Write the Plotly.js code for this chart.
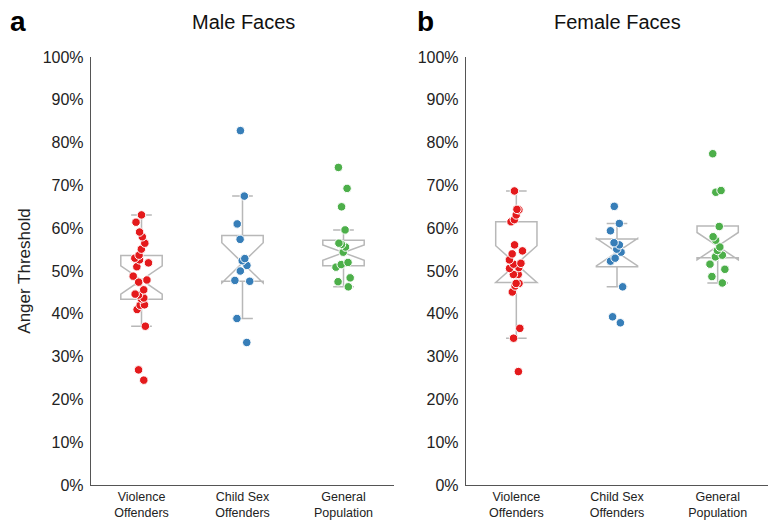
<!DOCTYPE html>
<html>
<head>
<meta charset="utf-8">
<script src="https://cdn.plot.ly/plotly-3.0.1.min.js"></script>
<style>html,body{margin:0;padding:0;background:#fff}#chart{width:769px;height:523px}</style>
</head>
<body>
<div id="chart"></div>
<script>
// ---- data (percent) ----
var categories = ['Violence<br>Offenders', 'Child Sex<br>Offenders', 'General<br>Population'];

var maleViolence = [63.1, 61.4, 59.1, 58.0, 56.5, 55.1, 53.7, 52.6, 53.0, 51.9, 51.0, 48.8, 47.9, 47.4, 45.6, 44.6, 44.4, 43.5, 43.7, 42.0, 42.1, 41.0, 37.1, 26.9, 24.5];
var maleChild = [82.8, 67.5, 61.0, 57.4, 52.9, 52.4, 51.3, 50.0, 47.6, 47.8, 38.9, 33.3];
var maleGeneral = [74.2, 69.3, 65.0, 59.6, 56.2, 56.5, 55.6, 54.4, 52.0, 51.5, 50.9, 48.4, 47.5, 46.3];

var femaleViolence = [68.7, 64.4, 64.3, 63.1, 62.0, 61.5, 56.1, 54.7, 54.0, 52.6, 51.8, 51.6, 50.8, 50.6, 49.2, 49.2, 47.1, 47.1, 46.5, 45.1, 36.6, 34.3, 26.5];
var femaleChild = [65.1, 61.1, 59.4, 56.6, 56.1, 55.1, 54.4, 53.0, 52.3, 46.3, 39.3, 37.9];
var femaleGeneral = [77.4, 68.8, 68.4, 60.4, 58.0, 57.2, 55.6, 54.8, 53.7, 53.3, 51.6, 50.4, 48.7, 47.2];

// box statistics
var maleQ1 = [43.4, 47.6, 51.2];
var maleMedian = [47.9, 51.9, 54.3];
var maleQ3 = [53.6, 58.3, 57.2];
var maleLower = [37.1, 38.9, 46.3];
var maleUpper = [63.1, 67.5, 59.6];
var maleNotch = [3.3, 4.7, 1.8];

var femaleQ1 = [47.3, 51.0, 53.1];
var femaleMedian = [51.6, 54.4, 55.8];
var femaleQ3 = [61.5, 57.5, 60.5];
var femaleLower = [34.3, 46.3, 47.2];
var femaleUpper = [68.7, 61.1, 60.5];
var femaleNotch = [4.3, 3.2, 3.2];

var groupColors = ['#e41a1c', '#377eb8', '#4daf4a'];
var yTicks = [0, 10, 20, 30, 40, 50, 60, 70, 80, 90, 100];
var yTickText = ['0%', '10%', '20%', '30%', '40%', '50%', '60%', '70%', '80%', '90%', '100%'];

// ---- traces ----
var BOXW = 0.41;
function statBox(q1, med, q3, lo, up, ns, xa, ya) {
  return {
    type: 'box', x: categories, q1: q1, median: med, q3: q3,
    lowerfence: lo, upperfence: up, notchspan: ns, notched: true, notchwidth: 0.5,
    width: BOXW, whiskerwidth: 0.5, boxpoints: false,
    line: {color: '#b8b8b8', width: 1.5}, fillcolor: 'rgba(0,0,0,0)',
    xaxis: xa, yaxis: ya, showlegend: false, hoverinfo: 'skip'
  };
}
function pointBox(vals, idx, xa, ya) {
  return {
    type: 'box', y: vals, x0: categories[idx], width: BOXW,
    boxpoints: 'all', jitter: 0.45, pointpos: 0,
    marker: {color: groupColors[idx], size: 8.5, line: {color: '#ffffff', width: 1}},
    line: {color: 'rgba(0,0,0,0)', width: 0}, fillcolor: 'rgba(0,0,0,0)',
    xaxis: xa, yaxis: ya, showlegend: false, hoverinfo: 'y'
  };
}

var data = [
  statBox(maleQ1, maleMedian, maleQ3, maleLower, maleUpper, maleNotch, 'x', 'y'),
  statBox(femaleQ1, femaleMedian, femaleQ3, femaleLower, femaleUpper, femaleNotch, 'x2', 'y2'),
  pointBox(maleViolence, 0, 'x', 'y'),
  pointBox(maleChild, 1, 'x', 'y'),
  pointBox(maleGeneral, 2, 'x', 'y'),
  pointBox(femaleViolence, 0, 'x2', 'y2'),
  pointBox(femaleChild, 1, 'x2', 'y2'),
  pointBox(femaleGeneral, 2, 'x2', 'y2')
];

var FONT = '"Liberation Sans", Arial, sans-serif';
var W = 769, H = 523;
function xAx(d0, d1, anchor) {
  return {
    domain: [d0 / W, d1 / W], anchor: anchor, type: 'category',
    categoryorder: 'array', categoryarray: categories, range: [-0.5, 2.5],
    showline: true, linecolor: '#555555', linewidth: 1.2,
    showgrid: false, zeroline: false,
    ticks: '', ticklen: 0,
    tickfont: {family: FONT, size: 12.5, color: '#222222'}, automargin: false
  };
}
function yAx(anchor, title) {
  var a = {
    domain: [(H - 485) / H, (H - 57) / H], anchor: anchor,
    range: [0, 100], tickmode: 'array', tickvals: yTicks, ticktext: yTickText,
    showline: true, linecolor: '#555555', linewidth: 1.2,
    showgrid: false, zeroline: false,
    ticks: 'outside', ticklen: 3, tickcolor: 'rgba(0,0,0,0)',
    tickfont: {family: FONT, size: 16, color: '#222222'}, automargin: false
  };
  if (title) a.title = {text: title, font: {family: FONT, size: 17, color: '#222222'}, standoff: 7};
  return a;
}

var layout = {
  width: W, height: H,
  margin: {l: 0, r: 0, t: 0, b: 0},
  paper_bgcolor: '#ffffff', plot_bgcolor: '#ffffff',
  boxmode: 'overlay',
  font: {family: FONT, color: '#222222'},
  xaxis: xAx(91, 394, 'y'),
  yaxis: yAx('x', 'Anger Threshold'),
  xaxis2: xAx(466, 768, 'y2'),
  yaxis2: yAx('x2', null),
  annotations: [
    {text: 'Male Faces', xref: 'paper', yref: 'paper', x: 243 / W, y: 1 - 22 / H,
     xanchor: 'center', yanchor: 'middle', showarrow: false, font: {family: FONT, size: 20, color: '#111111'}},
    {text: 'Female Faces', xref: 'paper', yref: 'paper', x: 617 / W, y: 1 - 22 / H,
     xanchor: 'center', yanchor: 'middle', showarrow: false, font: {family: FONT, size: 20, color: '#111111'}},
    {text: '<b>a</b>', xref: 'paper', yref: 'paper', x: 18 / W, y: 1 - 22 / H,
     xanchor: 'center', yanchor: 'middle', showarrow: false, font: {family: FONT, size: 28, color: '#000000'}},
    {text: '<b>b</b>', xref: 'paper', yref: 'paper', x: 425 / W, y: 1 - 22 / H,
     xanchor: 'center', yanchor: 'middle', showarrow: false, font: {family: FONT, size: 28, color: '#000000'}}
  ]
};

Plotly.newPlot('chart', data, layout, {displayModeBar: false, staticPlot: true});
</script>
</body>
</html>
